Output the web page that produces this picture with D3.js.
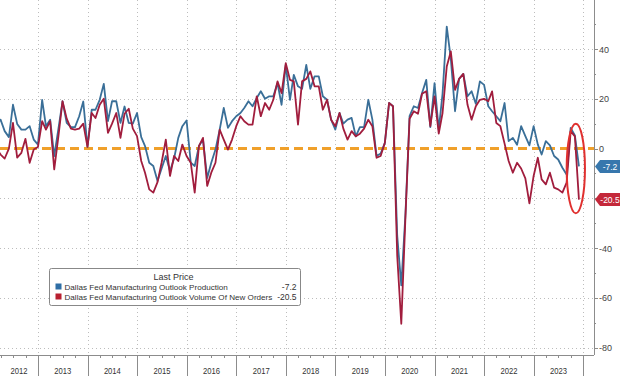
<!DOCTYPE html>
<html>
<head>
<meta charset="utf-8">
<script src="https://cdn.jsdelivr.net/npm/d3@7"></script>
<style>
  html, body { margin: 0; padding: 0; background: #fff; }
  svg { display: block; font-family: "Liberation Sans", Arial, sans-serif; }
</style>
</head>
<body>
<svg id="chart" width="620" height="376"></svg>
<script>
// monthly readings, Jan 2012 .. Nov 2023
const production = [
  14, 10, 11.6, 7, 4.6, 17.6, 9.9, 7.6, 7.6, 9, 3.6, 1.6,
  19.6, 9, 11.6, -3, 8, 19, 10.3, 8.6, 8.6, 13, 18.9, 0.7,
  15.6, 15.6, 19.6, 26, 11, 19, 19, 10.3, 16.9, 10.3, 10, 14.3,
  4.6, 1, -5.7, -7, -13, -8, -3, -9, -4, 4.3, 9, 11.3,
  -5.7, -7, 1, 3.6, -11.8, -5.7, -0.4, 7.6, 16.3, 8.3, 11, 13,
  14.3, 16.3, 19, 17, 20.3, 23, 20, 21, 21, 26.3, 17.6, 33.6,
  19.6, 29.6, 25, 24, 33.6, 24, 29, 29, 21, 19.6, 11.6, 7.6,
  14.3, 10, 11.6, 12.3, 4.9, 8.6, 8.6, 19.6, 11.6, -3, -2, 2.3,
  18.3, 17, -35, -55, -26, 13, 17, 16.3, 22.3, 27.6, 8.6, 26.3,
  7.6, 22, 49, 36, 15, 28, 30, 21, 23, 18, 27, 25.6,
  17, 15, 13, 11, 18.3, 3, 4.3, 1.5, 9, 5, 1.3, 9,
  1.6, -2.4, 3, 1.3, -3, -4.4, -7.7, -10.4, 8.3, 5.3, -7.2
];
const newOrders = [
  3, 0, -2.4, -4, 0, 10.3, -3.6, -1.7, 3.9, -5.7, -0.4, 0.6,
  11, 7.6, 11, -8.4, 5, 19, 12, 8, 7.6, 8, 10, 0.7,
  14.3, 12.3, 17.6, 20, 6.3, 10, 14.3, 4.3, 14, 16, 8, 5,
  -5, -9.7, -16.4, -17.7, -13.5, -5.7, 3.6, -11, -3, -5, 1.6, -3,
  -5.7, -17.7, 1, 4.3, -15, -9.7, -5.7, 7.6, 3.6, -0.4, 3.6, 9,
  13, 11, 9.6, 9.6, 21, 13, 18.3, 15.6, 19.6, 27, 22.3, 34.3,
  27.6, 27, 9.6, 27, 28, 31, 25, 25, 15.6, 19.6, 11.6, 9,
  14.3, 8, 3.6, 7, 4.9, 6, 8, 11.6, 9, -3.7, -3, 2.3,
  18.3, 17, -43, -70.4, -27, 12, 15, 14, 22, 23, 9, 21,
  6, 14.3, 33, 39, 23.6, 28, 30, 17.6, 11.6, 17, 19.6, 20,
  19, 23, 10.3, 9, 2, -5, -9.7, -5.7, -8, -12, -22, -11,
  -3.7, -12.4, -14.4, -9.7, -15.7, -16.4, -17.7, -13.7, 7, 4.9, -20.5
];
const seriesNames = [
  "Dallas Fed Manufacturing Outlook Production",
  "Dallas Fed Manufacturing Outlook Volume Of New Orders"
];
const lastLabels = ["-7.2", "-20.5"];
const yTicks = [40, 20, 0, -20, -40, -60, -80];
const yearLabels = ["2012", "2013", "2014", "2015", "2016", "2017", "2018", "2019", "2020", "2021", "2022", "2023"];

const blue = "#3a6f98", red = "#a11d3d";
const W = 620, H = 376, axisX = 594, axisY = 355;

const svg = d3.select("#chart");

// monthly points sit at month end
const dates = d3.timeMonth.range(new Date(2012, 0, 1), new Date(2023, 11, 1))
    .map(d => d3.timeDay.offset(d3.timeMonth.offset(d, 1), -1));

const x = d3.scaleTime()
    .domain([new Date(2012, 0, 1), new Date(2024, 0, 1)])
    .range([-11.6, 583.3]);
const y = d3.scaleLinear().domain([-80, 40]).range([347.7, 49]);

// grid
const yearStarts = yearLabels.map(s => new Date(+s, 0, 1)).concat([new Date(2024, 0, 1)]);
const grid = svg.append("g").attr("stroke", "#bdbdbd").attr("stroke-dasharray", "1,3");
grid.selectAll("line.v").data(yearStarts.slice(1)).join("line")
    .attr("x1", d => Math.round(x(d)) + 0.5).attr("x2", d => Math.round(x(d)) + 0.5)
    .attr("y1", 0).attr("y2", axisY);
grid.selectAll("line.h").data(yTicks.filter(v => v !== 0)).join("line")
    .attr("x1", 0).attr("x2", axisX)
    .attr("y1", d => Math.round(y(d)) + 0.5).attr("y2", d => Math.round(y(d)) + 0.5);

// zero line
svg.append("line")
    .attr("x1", 0).attr("x2", axisX)
    .attr("y1", y(0)).attr("y2", y(0))
    .attr("stroke", "#f0a02a").attr("stroke-width", 3).attr("stroke-dasharray", "9,5");

// series
const line = d3.line().x((d, i) => x(dates[i])).y(d => y(d));
svg.append("path").datum(production)
    .attr("d", line).attr("fill", "none").attr("stroke", blue).attr("stroke-width", 1.8)
    .attr("stroke-linejoin", "round");
svg.append("path").datum(newOrders)
    .attr("d", line).attr("fill", "none").attr("stroke", red).attr("stroke-width", 1.8)
    .attr("stroke-linejoin", "round");

// x axis
const xa = svg.append("g").attr("stroke", "#8c8c8c");
xa.append("line").attr("x1", 0).attr("x2", axisX).attr("y1", axisY + 0.5).attr("y2", axisY + 0.5);
xa.selectAll("line.q").data(d3.timeMonth.every(3).range(new Date(2012, 0, 1), new Date(2024, 2, 1))).join("line")
    .attr("x1", d => Math.round(x(d)) + 0.5).attr("x2", d => Math.round(x(d)) + 0.5)
    .attr("y1", axisY).attr("y2", axisY + 3);
xa.selectAll("line.yr").data(yearStarts.slice(1)).join("line")
    .attr("x1", d => Math.round(x(d)) + 0.5).attr("x2", d => Math.round(x(d)) + 0.5)
    .attr("y1", axisY).attr("y2", H);
svg.append("g").selectAll("text").data(yearLabels).join("text")
    .attr("x", (d, i) => (Math.max(0, x(yearStarts[i])) + Math.min(axisX, x(yearStarts[i + 1]))) / 2)
    .attr("y", 374)
    .attr("text-anchor", "middle").attr("font-size", 8.5).attr("fill", "#333")
    .attr("textLength", 17).attr("lengthAdjust", "spacingAndGlyphs")
    .text(d => d);

// last values
const lastVals = [production[production.length - 1], newOrders[newOrders.length - 1]];

// y axis (right)
const ya = svg.append("g").attr("stroke", "#8c8c8c");
ya.append("line").attr("x1", axisX + 0.5).attr("x2", axisX + 0.5).attr("y1", 0).attr("y2", axisY);
ya.selectAll("line.mj").data(yTicks).join("line")
    .attr("x1", axisX).attr("x2", axisX + 4)
    .attr("y1", d => Math.round(y(d)) + 0.5).attr("y2", d => Math.round(y(d)) + 0.5);
ya.selectAll("line.mn").data(d3.range(-70, 60, 20)).join("line")
    .attr("x1", axisX).attr("x2", axisX + 2)
    .attr("y1", d => Math.round(y(d)) + 0.5).attr("y2", d => Math.round(y(d)) + 0.5);
// labels hidden behind a value tag are left out, as in the original
svg.append("g").selectAll("text")
    .data(yTicks.filter(t => lastVals.every(v => Math.abs(y(t) - y(v)) > 9))).join("text")
    .attr("x", axisX + 5).attr("y", d => y(d) + 3.5)
    .attr("font-size", 9).attr("fill", "#444")
    .text(d => d);

// last value tags
const tagColors = ["#3777ad", "#c4283a"];
const tags = svg.append("g").selectAll("g").data(lastVals).join("g")
    .attr("transform", d => `translate(${axisX + 1},${y(d)})`);
tags.append("path")
    .attr("d", "M0,0 L5,-6.5 L25,-6.5 L25,6.5 L5,6.5 Z")
    .attr("fill", (d, i) => tagColors[i]);
tags.append("text")
    .attr("x", 15).attr("y", 3.2).attr("text-anchor", "middle")
    .attr("font-size", 8.5).attr("fill", "#fff")
    .text((d, i) => lastLabels[i]);

// circled last months
const n = dates.length;
const ex0 = x(dates[n - 3]), ex1 = x(dates[n - 1]);
svg.append("ellipse")
    .attr("cx", (ex0 + ex1) / 2 + 1).attr("cy", (y(10) + y(-26)) / 2)
    .attr("rx", (ex1 - ex0) / 2 + 5).attr("ry", (y(-26) - y(10)) / 2)
    .attr("fill", "none").attr("stroke", "#e0302f").attr("stroke-width", 2);

// legend
const lg = svg.append("g").attr("transform", "translate(49.5,268.5)");
lg.append("rect").attr("width", 251).attr("height", 37).attr("rx", 2)
    .attr("fill", "#fff").attr("stroke", "#888");
lg.append("text").attr("x", 124).attr("y", 11).attr("text-anchor", "middle")
    .attr("font-size", 9).attr("fill", "#333").text("Last Price");
const rows = lg.selectAll("g.row").data(seriesNames).join("g")
    .attr("transform", (d, i) => `translate(0,${15 + i * 10})`);
rows.append("rect").attr("x", 6).attr("y", 0).attr("width", 6).attr("height", 6)
    .attr("fill", (d, i) => i ? "#b81f30" : "#2f6ea5");
rows.append("text").attr("x", 15).attr("y", 6.5).attr("font-size", 8.1).attr("fill", "#333")
    .text(d => d);
rows.append("text").attr("x", 247).attr("y", 6.5).attr("text-anchor", "end")
    .attr("font-size", 8.5).attr("fill", "#333").text((d, i) => lastLabels[i]);
</script>
</body>
</html>
